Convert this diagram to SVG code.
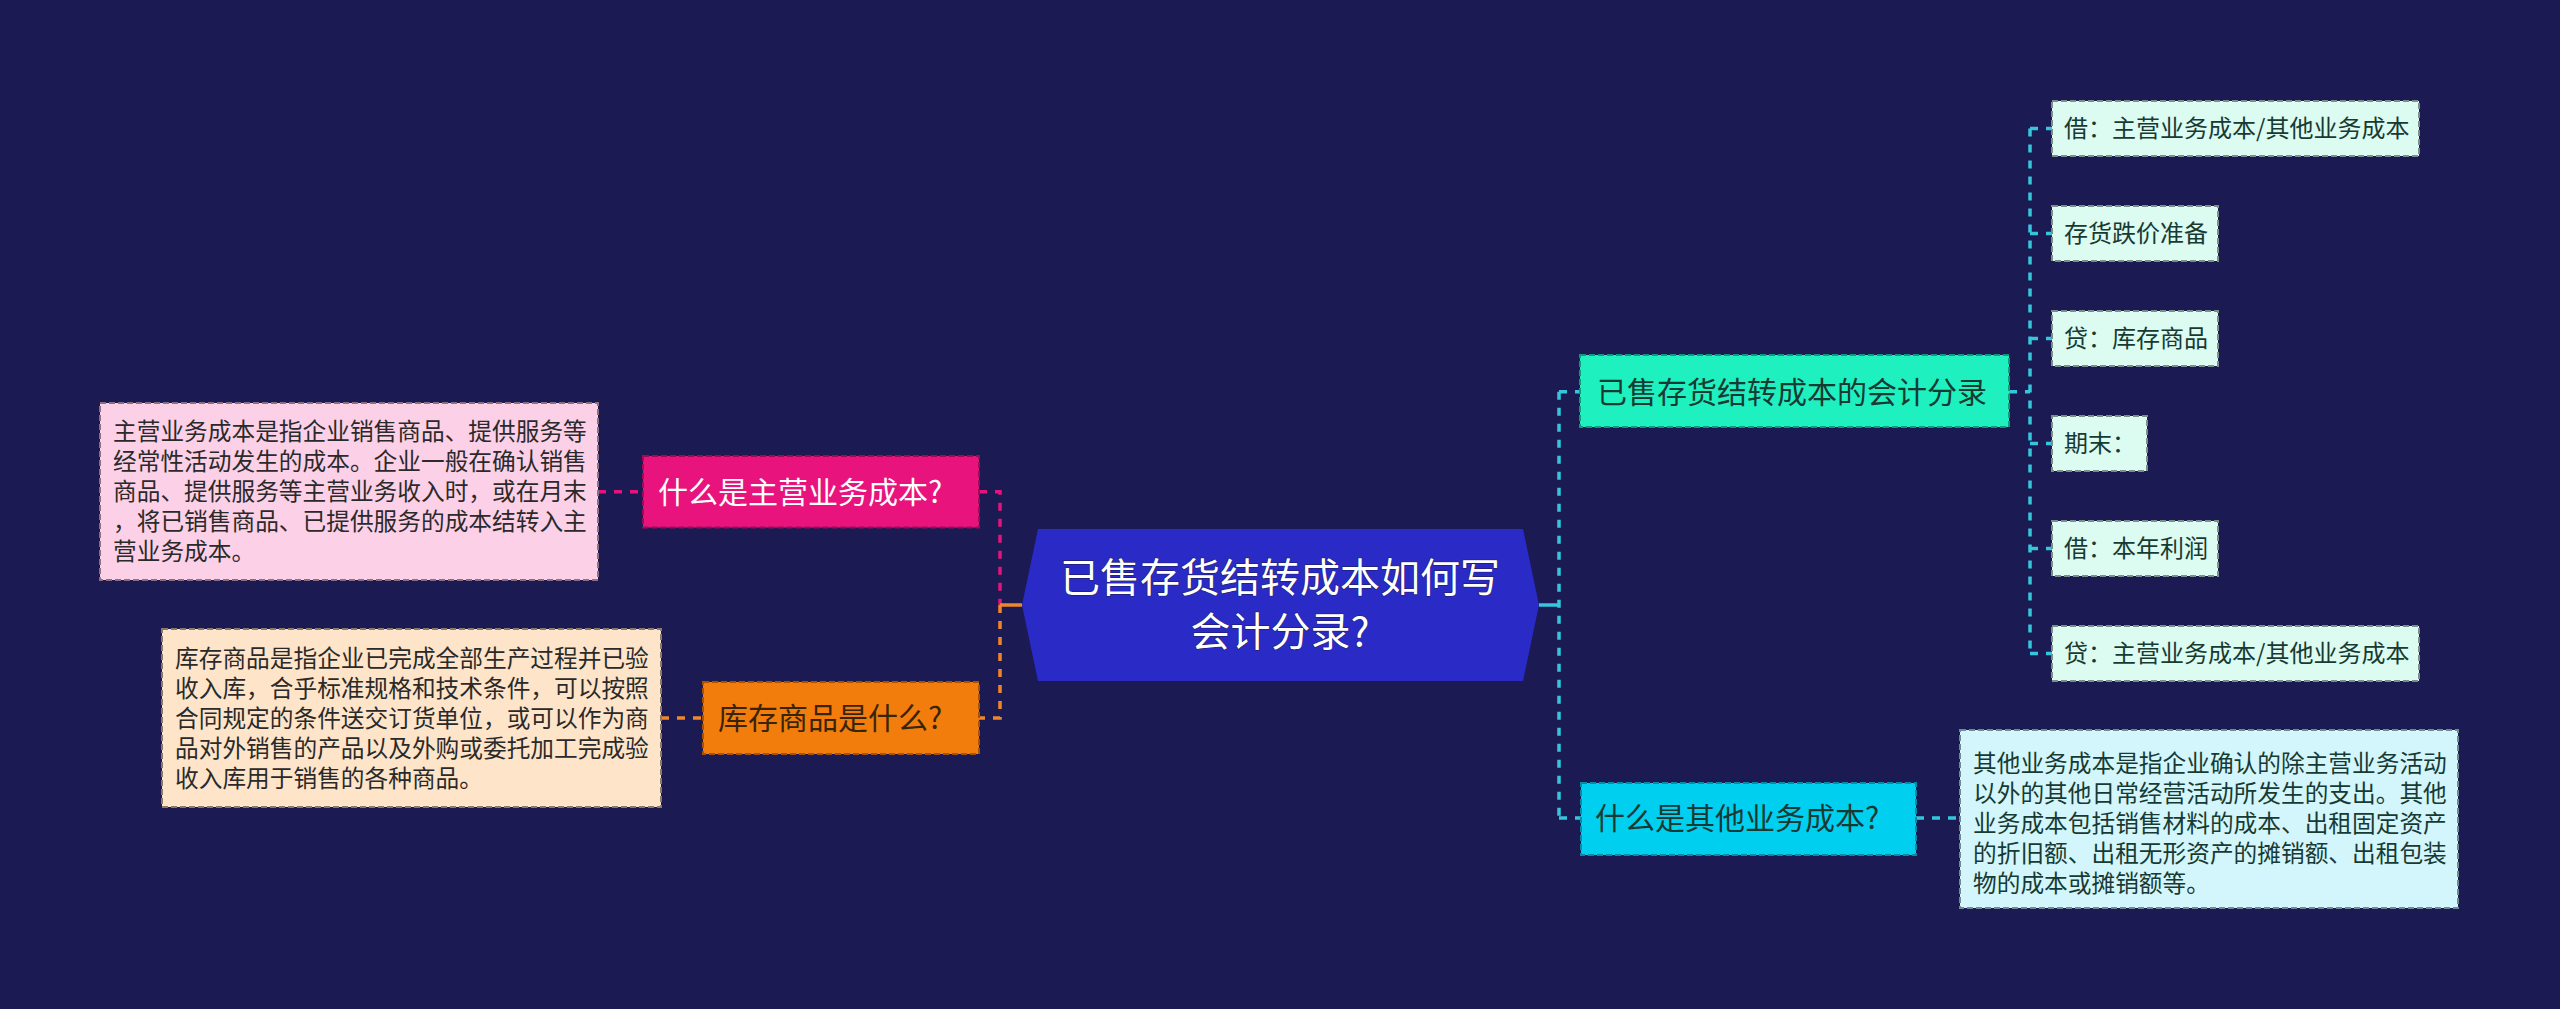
<svg xmlns="http://www.w3.org/2000/svg" width="2560" height="1009" viewBox="0 0 2560 1009">
<style>
text{font-family:"Noto Sans CJK SC","Noto Sans",sans-serif}
.box{stroke-width:2;stroke-dasharray:6 3}
.n30{font-size:30px}
.n24{font-size:24px}
.t{font-size:23.7px;fill:#2a2a2a}
.dk{fill:#173a33}
.ln{fill:none;stroke-width:3.5;stroke-dasharray:8 8}
</style>
<rect width="2560" height="1009" fill="#1b1a52"/>

<g id="connectors">
  <path class="ln" stroke="#e5137c" d="M598,491.7H643 M979,491.7H1000V605"/>
  <path class="ln" stroke="#f0862a" d="M661,718H703 M1000,605V718H979"/>
  <path d="M1000,605H1022" stroke="#f0862a" stroke-width="3.5" fill="none"/>
  <path d="M1539,605H1559" stroke="#36c6dc" stroke-width="3.5" fill="none"/>
  <path class="ln" stroke="#36c6dc" d="M1559,391.7V818 M1559,391.7H1580 M1559,818H1581 M1916,818H1960"/>
  <path class="ln" stroke="#36c6dc" d="M2009,391.7H2030 M2030,128.5V653.5 M2030,128.5H2052 M2030,233.5H2052 M2030,338.5H2052 M2030,443.5H2052 M2030,548.5H2052 M2030,653.5H2052"/>
</g>

<g id="center">
  <path d="M1038,529L1523,529L1539,605L1523,681L1038,681L1022,605Z" fill="#2a2bc7"/>
  <text x="1280" y="592" font-size="40" fill="#ffffff" text-anchor="middle" stroke="#1b1a52" stroke-width="1" paint-order="stroke">已售存货结转成本如何写</text>
  <text x="1280" y="646" font-size="40" fill="#ffffff" text-anchor="middle" stroke="#1b1a52" stroke-width="1" paint-order="stroke">会计分录?</text>
</g>

<g id="n-main-cost">
  <rect class="box" x="643" y="456" width="336" height="71.5" fill="#e9137d" stroke="#a00a55"/>
  <text class="n30" x="658" y="502.5" fill="#ffffff">什么是主营业务成本?</text>
</g>
<g id="n-main-cost-desc">
  <rect class="box" x="100" y="403" width="498" height="177" fill="#fcd0e6" stroke="#8a7080"/>
  <text class="t" x="113" y="440.3">主营业务成本是指企业销售商品、提供服务等</text>
  <text class="t" x="113" y="470.3">经常性活动发生的成本。企业一般在确认销售</text>
  <text class="t" x="113" y="500.3">商品、提供服务等主营业务收入时，或在月末</text>
  <text class="t" x="113" y="530.3">，将已销售商品、已提供服务的成本结转入主</text>
  <text class="t" x="113" y="560.3">营业务成本。</text>
</g>

<g id="n-inventory">
  <rect class="box" x="703" y="682" width="276" height="72" fill="#f27d0c" stroke="#a55205"/>
  <text class="n30" x="718" y="729" fill="#3a2408">库存商品是什么?</text>
</g>
<g id="n-inventory-desc">
  <rect class="box" x="162" y="629" width="499" height="178" fill="#fee4c8" stroke="#8a7a68"/>
  <text class="t" x="175" y="667">库存商品是指企业已完成全部生产过程并已验</text>
  <text class="t" x="175" y="697">收入库，合乎标准规格和技术条件，可以按照</text>
  <text class="t" x="175" y="727">合同规定的条件送交订货单位，或可以作为商</text>
  <text class="t" x="175" y="757">品对外销售的产品以及外购或委托加工完成验</text>
  <text class="t" x="175" y="787">收入库用于销售的各种商品。</text>
</g>

<g id="n-entries">
  <rect class="box" x="1580" y="355" width="429" height="72" fill="#1ef0bf" stroke="#0f9a78"/>
  <text class="n30 dk" x="1597" y="402.5">已售存货结转成本的会计分录</text>
</g>
<g id="leaf-1">
  <rect class="box" x="2052" y="101" width="367" height="55" fill="#dcfbf1" stroke="#7a8f8a"/>
  <text class="n24 dk" x="2064" y="137">借：主营业务成本/其他业务成本</text>
</g>
<g id="leaf-2">
  <rect class="box" x="2052" y="206" width="166" height="55" fill="#dcfbf1" stroke="#7a8f8a"/>
  <text class="n24 dk" x="2064" y="242">存货跌价准备</text>
</g>
<g id="leaf-3">
  <rect class="box" x="2052" y="311" width="166" height="55" fill="#dcfbf1" stroke="#7a8f8a"/>
  <text class="n24 dk" x="2064" y="347">贷：库存商品</text>
</g>
<g id="leaf-4">
  <rect class="box" x="2052" y="416" width="95" height="55" fill="#dcfbf1" stroke="#7a8f8a"/>
  <text class="n24 dk" x="2064" y="452">期末：</text>
</g>
<g id="leaf-5">
  <rect class="box" x="2052" y="521" width="166" height="55" fill="#dcfbf1" stroke="#7a8f8a"/>
  <text class="n24 dk" x="2064" y="557">借：本年利润</text>
</g>
<g id="leaf-6">
  <rect class="box" x="2052" y="626" width="367" height="55" fill="#dcfbf1" stroke="#7a8f8a"/>
  <text class="n24 dk" x="2064" y="662">贷：主营业务成本/其他业务成本</text>
</g>

<g id="n-other-cost">
  <rect class="box" x="1581" y="783" width="335" height="72" fill="#00cff0" stroke="#0a8aa5"/>
  <text class="n30 dk" x="1595" y="829">什么是其他业务成本?</text>
</g>
<g id="n-other-cost-desc">
  <rect class="box" x="1960" y="730" width="498" height="178" fill="#d3f6fc" stroke="#6f8a90"/>
  <text class="t dk" x="1973" y="771.6">其他业务成本是指企业确认的除主营业务活动</text>
  <text class="t dk" x="1973" y="801.6">以外的其他日常经营活动所发生的支出。其他</text>
  <text class="t dk" x="1973" y="831.6">业务成本包括销售材料的成本、出租固定资产</text>
  <text class="t dk" x="1973" y="861.6">的折旧额、出租无形资产的摊销额、出租包装</text>
  <text class="t dk" x="1973" y="891.6">物的成本或摊销额等。</text>
</g>
</svg>
